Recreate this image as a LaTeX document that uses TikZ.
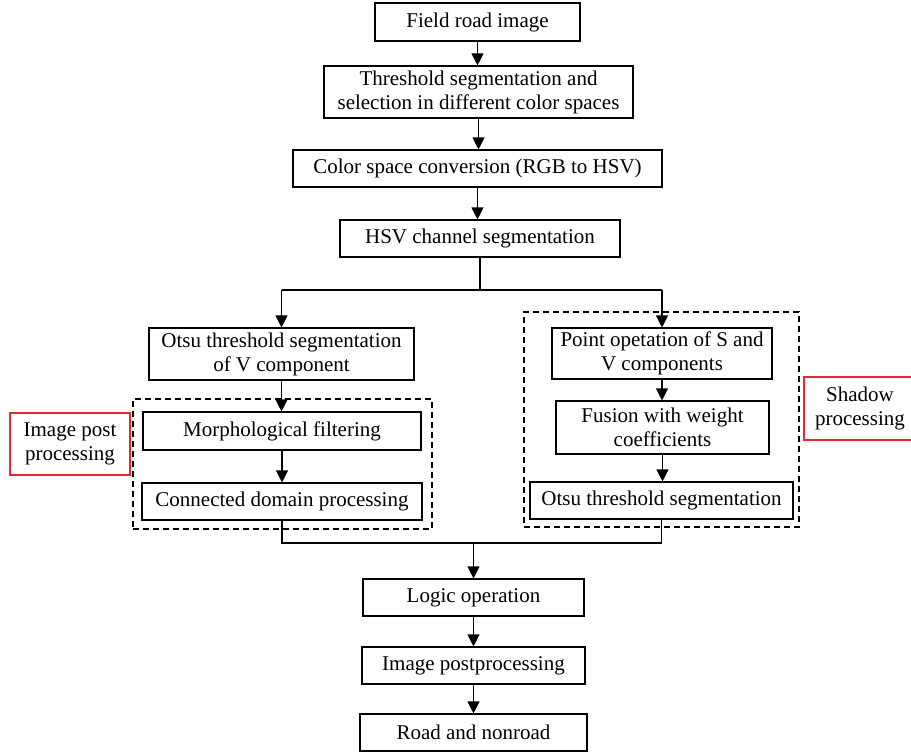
\documentclass[tikz,border=0pt]{standalone}
\usepackage{fontspec}
\setmainfont{Liberation Serif}
\usetikzlibrary{arrows.meta}
\definecolor{boxred}{RGB}{232,40,46}
\begin{document}
\begin{tikzpicture}[x=1pt,y=-1pt,
  every node/.style={font=\fontsize{21}{24}\selectfont, align=center, inner sep=0pt},
  pbox/.style={draw, line width=1.1pt, minimum width=#1},
  arr/.style={-{Triangle[length=12pt,width=12pt]}, line width=1.1pt},
  ln/.style={line width=1.1pt},
  grp/.style={draw, line width=1.1pt, dash pattern=on 6pt off 4pt},
  redbox/.style={draw=boxred, line width=1.1pt}]
\useasboundingbox (0,0) rectangle (911,752);
\clip (0,0) rectangle (911,752);

% main column
\node[pbox=205, minimum height=38] (field) at (477.5,22) {Field road image};
\node[pbox=309, minimum height=52] (thresh) at (478.5,92) {Threshold segmentation and\\selection in different color spaces};
\node[pbox=369, minimum height=37] (color) at (477.5,168.5) {Color space conversion (RGB to HSV)};
\node[pbox=280, minimum height=37] (hsv) at (480,238.5) {HSV channel segmentation};

% left branch
\node[pbox=265, minimum height=52] (otsuv) at (281.5,354) {Otsu threshold segmentation\\of V component};
\node[pbox=278, minimum height=38] (morph) at (282,431) {Morphological filtering};
\node[pbox=280, minimum height=37] (conn) at (282,501.5) {Connected domain processing};

% right branch
\node[pbox=220, minimum height=51] (point) at (662,353.5) {Point opetation of S and\\V components};
\node[pbox=213, minimum height=53] (fusion) at (662.5,427.5) {Fusion with weight\\coefficients};
\node[pbox=263, minimum height=37] (otsu) at (661.5,500.5) {Otsu threshold segmentation};

% bottom
\node[pbox=221, minimum height=37] (logic) at (473.5,597.5) {Logic operation};
\node[pbox=223, minimum height=37] (post) at (473.5,665.5) {Image postprocessing};
\node[pbox=227, minimum height=37] (road) at (473.5,732.5) {Road and nonroad};

% group frames
\node[grp, minimum width=299, minimum height=130] (gleft) at (282.5,464) {};
\node[grp, minimum width=275, minimum height=215] (gright) at (661.5,419.5) {};

% side labels
\node[redbox, minimum width=120, minimum height=62] (lblL) at (70,444) {Image post\\processing};
\node[redbox, minimum width=112, minimum height=63] (lblR) at (860,408.5) {Shadow\\processing};

% connectors
\draw[arr] (field.south) -- (field.south |- thresh.north);
\draw[arr] (thresh.south) -- (thresh.south |- color.north);
\draw[arr] (color.south) -- (color.south |- hsv.north);

\coordinate (j1) at (480,290);
\draw[ln] (hsv.south) -- (j1);
\draw[ln] (otsuv.north |- j1) -- (point.north |- j1);
\draw[arr] (otsuv.north |- j1) -- (otsuv.north);
\draw[arr] (point.north |- j1) -- (point.north);

\draw[arr] (otsuv.south) -- (otsuv.south |- morph.north);
\draw[arr] (morph.south) -- (morph.south |- conn.north);

\draw[arr] (point.south) -- (point.south |- fusion.north);
\draw[arr] (fusion.south) -- (fusion.south |- otsu.north);

\coordinate (j2) at (474,543);
\draw[ln] (conn.south) -- (conn.south |- j2) -- (otsu.south |- j2) -- (otsu.south);
\draw[arr] (logic.north |- j2) -- (logic.north);
\draw[arr] (logic.south) -- (logic.south |- post.north);
\draw[arr] (post.south) -- (post.south |- road.north);
\end{tikzpicture}
\end{document}
